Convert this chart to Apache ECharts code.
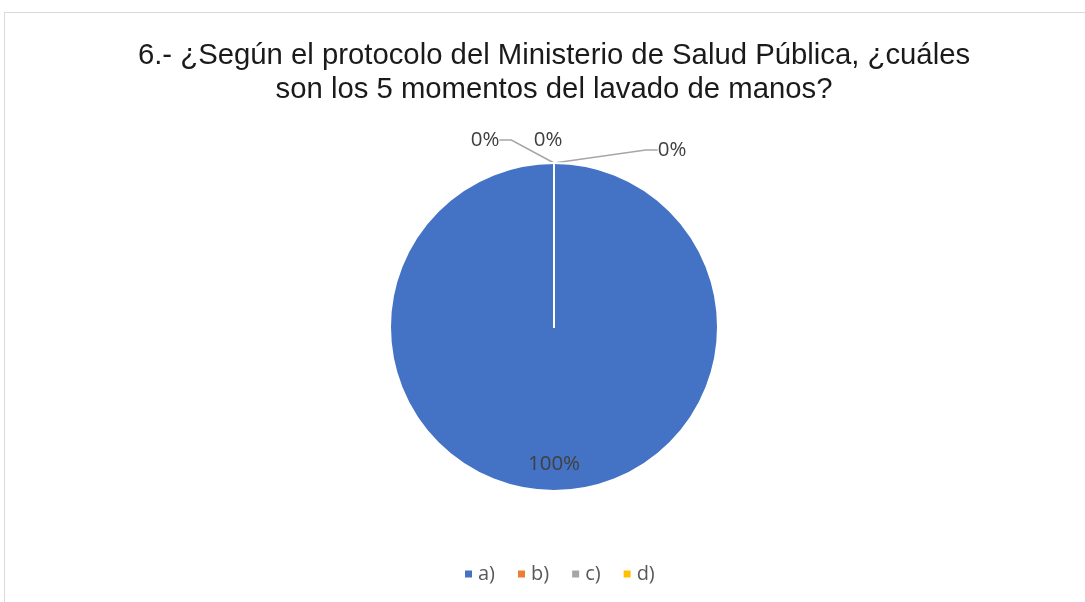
<!DOCTYPE html>
<html><head><meta charset="utf-8">
<script src="https://cdn.jsdelivr.net/npm/echarts@6/dist/echarts.min.js"></script>
<style>html,body{margin:0;padding:0;background:#fff}#c{width:1085px;height:602px}
#frame{position:absolute;left:4px;top:12px;width:1090px;height:600px;border:1px solid #d9d9d9;box-sizing:border-box;pointer-events:none}</style>
</head><body><div id="c"></div><div id="frame"></div>
<script>
const titleText = '6.- ¿Según el protocolo del Ministerio de Salud Pública, ¿cuáles\nson los 5 momentos del lavado de manos?';
const categories = ['a)', 'b)', 'c)', 'd)'];
const values = [100, 0, 0, 0];
const colors = ['#4472C4', '#ED7D31', '#A5A5A5', '#FFC000'];

const chart = echarts.init(document.getElementById('c'));
chart.setOption({
  animation: false,
  color: colors,
  title: {
    text: titleText, left: 549, top: 34, textAlign: 'center',
    textStyle: {fontFamily: 'Liberation Sans', fontSize: 29.3, fontWeight: 'normal', color: '#1a1a1a', lineHeight: 34}
  },
  legend: {
    bottom: 13, left: 458, itemWidth: 9, itemHeight: 9, itemGap: 21, icon: 'rect',
    textStyle: {fontFamily: 'Open Sans', fontSize: 20, color: '#595959'},
    data: categories
  },
  series: [{
    type: 'pie',
    center: [554, 327], radius: 164,
    startAngle: 90, clockwise: true,
    stillShowZeroSum: true,
    avoidLabelOverlap: false,
    itemStyle: {borderColor: '#fff', borderWidth: 2},
    label: {
      formatter: '{d}%', fontFamily: 'Open Sans', fontSize: 20.5, color: '#404040'
    },
    labelLine: {lineStyle: {color: '#a6a6a6', width: 1.5}, length: 8, length2: 12},
    data: categories.map((c, i) => ({
      name: c, value: values[i],
      label: i === 0 ? {position: 'inside'} : {position: 'outside'},
      labelLine: i === 2 ? {show: false} : {}
    })),
    labelLayout: function (p) {
      if (p.dataIndex === 0) return {dy: 52};
      if (p.dataIndex === 1) return {x: 485, y: 140, align: 'center', verticalAlign: 'middle'};
      if (p.dataIndex === 2) return {x: 548, y: 140, align: 'center', verticalAlign: 'middle'};
      return {x: 672, y: 150, align: 'center', verticalAlign: 'middle'};
    }
  }]
});
</script></body></html>
